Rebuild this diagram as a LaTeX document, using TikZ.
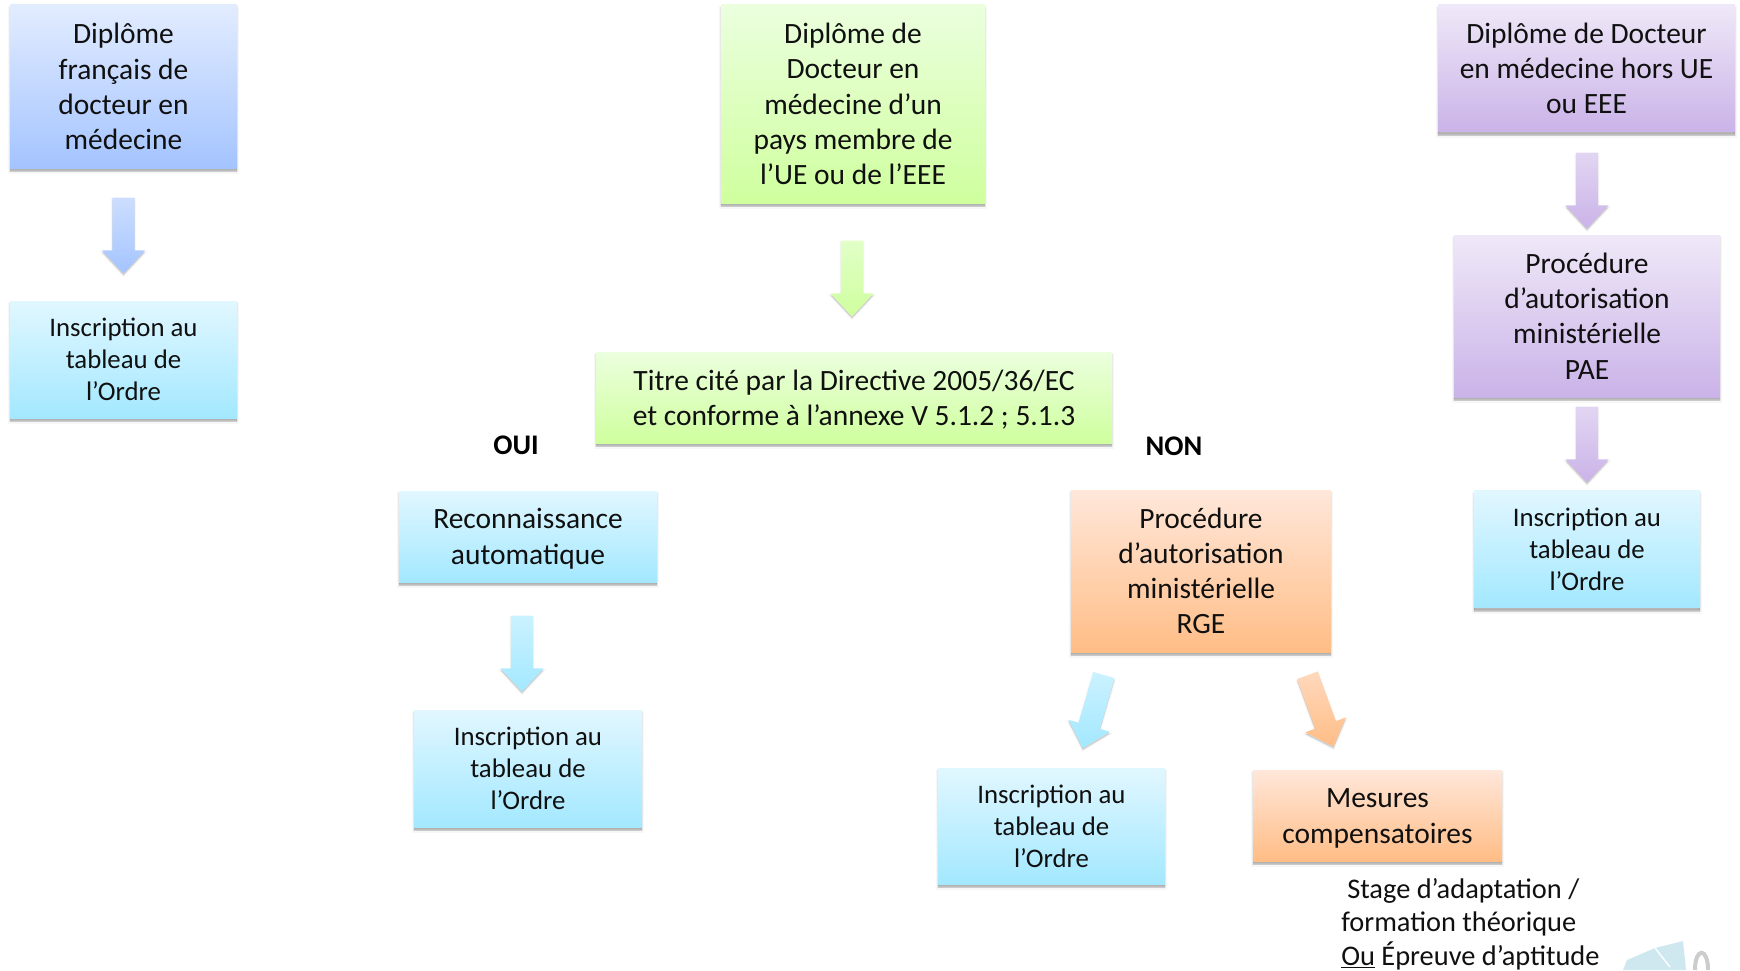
\documentclass[tikz,border=0pt]{standalone}
\usepackage{fontspec}
\setmainfont{Carlito}
\usetikzlibrary{shadows,shapes.arrows,calc}
\definecolor{txt}{HTML}{101010}
\definecolor{blT}{HTML}{E2ECFF}\definecolor{blB}{HTML}{A4C4FF}
\definecolor{cyT}{HTML}{E1F7FF}\definecolor{cyB}{HTML}{A3E8FF}
\definecolor{grT}{HTML}{EBFFDE}\definecolor{grB}{HTML}{CFFF9E}
\definecolor{puT}{HTML}{EFE8F8}\definecolor{puB}{HTML}{CAB3E8}
\definecolor{orT}{HTML}{FFE7DA}\definecolor{orB}{HTML}{FFBD86}
\definecolor{logoC}{HTML}{CFE8F0}
\newcommand{\topfix}[1]{\rule{0pt}{#1}}
\tikzset{
  softshadow/.style={
    general shadow={fill=black,draw=black,line width=3.4pt,opacity=.03,shadow yshift=-2.8pt},
    general shadow={fill=black,draw=black,line width=1.8pt,opacity=.06,shadow yshift=-2.4pt},
    general shadow={fill=black,opacity=.10,shadow yshift=-3pt},
    general shadow={fill=black,opacity=.12,shadow yshift=-1.6pt}},
  sz/.style 2 args={minimum width=#1*0.75pt,minimum height=#2*0.75pt},
  basebox/.style={softshadow,inner sep=0pt,align=center,text=txt},
  bigbox/.style={basebox,font=\fontsize{22.1}{26.4}\selectfont},
  smallbox/.style={basebox,font=\fontsize{20.1}{24}\selectfont},
  bluebox/.style={top color=blT,bottom color=blB},
  cyanbox/.style={top color=cyT,bottom color=cyB},
  greenbox/.style={top color=grT,bottom color=grB},
  purplebox/.style={top color=puT,bottom color=puB},
  orangebox/.style={top color=orT,bottom color=orB},
  barrow/.style 2 args={single arrow,anchor=tail,inner xsep=0pt,inner ysep=8.1pt,minimum height=57pt,
    single arrow head extend=7.9pt,single arrow tip angle=86,
    top color=#1!65!#2,bottom color=#2,
    general shadow={fill=black,draw=black,line width=2pt,opacity=.03,shadow yshift=-1.5pt},
    general shadow={fill=black,opacity=.13,shadow yshift=-1.5pt}},
  freelabel/.style={inner sep=0pt,text=txt,font=\fontsize{21.3}{25}\selectfont},
  yesno/.style={inner sep=0pt,text=black,font=\bfseries\fontsize{21.3}{25}\selectfont},
}
\begin{document}
\begin{tikzpicture}[x=0.75pt,y=-0.75pt]
\useasboundingbox (0,0) rectangle (1740,970);
% logo fragment
\fill[logoC] (1623,970) -- (1627,960) -- (1655,948) -- (1683,941) -- (1686,970) -- cycle;
\draw[white,line width=1pt] (1655,948) -- (1670,967);
\draw[black!20,line width=3pt] (1695,970) .. controls (1695,947) and (1708,947) .. (1708,970);
% boxes
\node[bigbox,bluebox,sz={227}{163}] (A) at (123.5,86.5) {Diplôme\\français de\\docteur en\\médecine};
\node[smallbox,cyanbox,sz={227}{117}] (A2) at (123.5,359.5) {Inscription au\\tableau de\\l’Ordre};
\node[bigbox,greenbox,sz={264}{198}] (B) at (853,104) {Diplôme de\\Docteur en\\médecine d’un\\pays membre de\\l’UE ou de l’EEE};
\node[bigbox,greenbox,sz={516}{91}] (T) at (854,397.5) {\topfix{19pt}Titre cité par la Directive 2005/36/EC\\et conforme à l’annexe V 5.1.2 ; 5.1.3};
\node[bigbox,cyanbox,sz={258}{91}] (R) at (528,536.5) {\topfix{18.5pt}Reconnaissance\\automatique};
\node[smallbox,cyanbox,sz={228}{117}] (R2) at (528,768.5) {Inscription au\\tableau de\\l’Ordre};
\node[bigbox,orangebox,sz={260}{162}] (P) at (1201,571) {Procédure\\d’autorisation\\ministérielle\\RGE};
\node[smallbox,cyanbox,sz={227}{116}] (P2) at (1051.5,826) {Inscription au\\tableau de\\l’Ordre};
\node[bigbox,orangebox,sz={249}{91}] (M) at (1377.5,815.5) {\topfix{18.5pt}Mesures\\compensatoires};
\node[bigbox,purplebox,sz={297}{127}] (C) at (1586.5,68.5) {Diplôme de Docteur\\en médecine hors UE\\ou EEE};
\node[bigbox,purplebox,sz={266}{162}] (D) at (1587,316) {Procédure\\d’autorisation\\ministérielle\\PAE};
\node[smallbox,cyanbox,sz={226}{117}] (E) at (1587,549) {Inscription au\\tableau de\\l’Ordre};
% block arrows
\node[barrow={blT}{blB},rotate=-90] (a1) at ($(A.south)+(0,29)$) {};
\node[barrow={grT}{grB},rotate=-90] (a2) at ($(B.south)+(-1,37)$) {};
\node[barrow={cyT}{cyB},rotate=-90] (a3) at ($(R.south)+(-6,33)$) {};
\node[barrow={puT}{puB},rotate=-90] (a4) at ($(C.south)+(0.5,20)$) {};
\node[barrow={puT}{puB},rotate=-90] (a5) at ($(D.south)+(0,9)$) {};
\node[barrow={cyT}{cyB},rotate=-106.2] (a6) at ($(P.south)+(-97,22.5)$) {};
\node[barrow={orT}{orB},rotate=-69.9] (a7) at ($(P.south)+(106.3,22.7)$) {};
% labels
\node[yesno] (oui) at (516,445) {OUI};
\node[yesno] (non) at (1174,446) {NON};
\node[freelabel,anchor=west] (s1) at (1347,890.5) {Stage d’adaptation /};
\node[freelabel,anchor=west] (s2) at (1341,923.5) {formation théorique};
\node[freelabel,anchor=west] (s3) at (1341,956) {\underline{Ou} Épreuve d’aptitude};
\end{tikzpicture}
\end{document}
